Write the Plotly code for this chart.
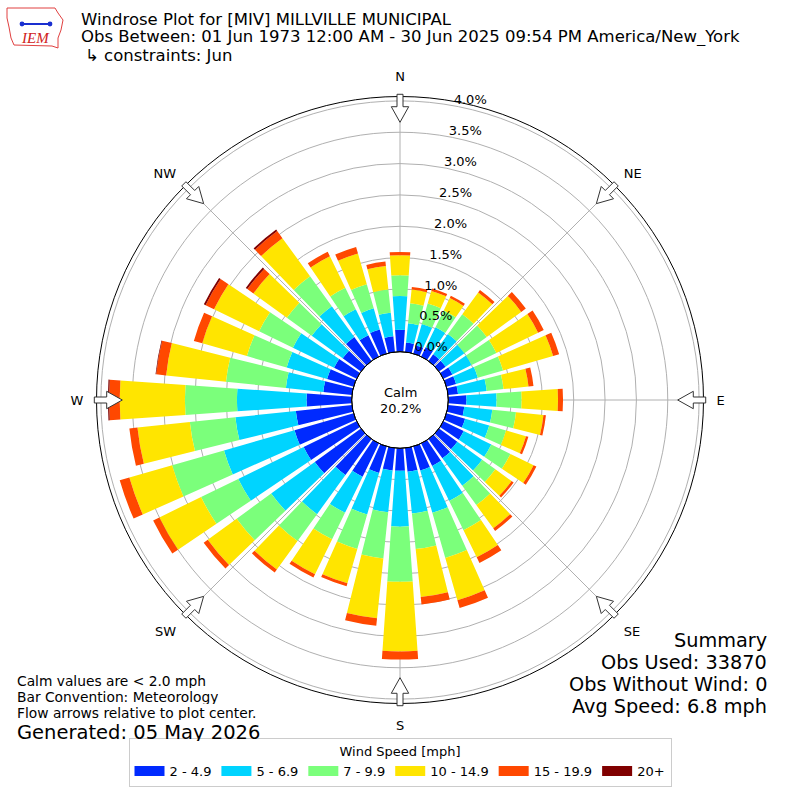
import math
import plotly.graph_objects as go

# direction bins (degrees, meteorological) and wind speed classes
directions = [0, 10, 20, 30, 40, 50, 60, 70, 80, 90, 100, 110, 120, 130, 140, 150, 160, 170,
              180, 190, 200, 210, 220, 230, 240, 250, 260, 270, 280, 290, 300, 310, 320, 330, 340, 350]
speed_bins = ["2 - 4.9", "5 - 6.9", "7 - 9.9", "10 - 14.9", "15 - 19.9", "20+"]
bin_colors = ["#002aff", "#00d4ff", "#7bff7b", "#ffe500", "#ff4800", "#800000"]

# frequency (%) per direction for each speed class
freq_2_5 = [0.35, 0.15, 0.14, 0.17, 0.13, 0.13, 0.16, 0.16, 0.16, 0.29, 0.26, 0.31, 0.36, 0.36, 0.38, 0.40, 0.40, 0.38,
            0.36, 0.36, 0.44, 0.59, 0.71, 0.91, 0.94, 0.98, 0.90, 0.72, 0.46, 0.44, 0.40, 0.36, 0.47, 0.38, 0.40, 0.25]
freq_5_7 = [0.54, 0.31, 0.35, 0.35, 0.40, 0.37, 0.34, 0.36, 0.46, 0.48, 0.45, 0.40, 0.49, 0.49, 0.54, 0.62, 0.70, 0.67,
            0.89, 0.67, 0.69, 0.64, 0.77, 0.86, 1.16, 1.17, 0.97, 1.11, 0.60, 0.67, 0.73, 0.61, 0.61, 0.46, 0.35, 0.38]
freq_7_10 = [0.33, 0.32, 0.34, 0.30, 0.39, 0.44, 0.44, 0.42, 0.27, 0.40, 0.38, 0.28, 0.34, 0.26, 0.38, 0.52, 0.75, 0.57,
             0.88, 0.74, 0.57, 0.47, 0.53, 0.68, 0.66, 0.86, 0.73, 0.83, 0.96, 0.66, 0.60, 0.49, 0.59, 0.38, 0.40, 0.37]
freq_10_15 = [0.32, 0.22, 0.21, 0.22, 0.43, 0.68, 0.74, 0.83, 0.40, 0.58, 0.44, 0.33, 0.41, 0.32, 0.46, 0.48, 0.70, 0.77,
              1.11, 0.96, 0.57, 0.62, 0.56, 0.57, 0.74, 0.71, 0.84, 1.04, 0.96, 0.74, 0.80, 0.66, 0.75, 0.56, 0.51, 0.38]
freq_15_20 = [0.05, 0.04, 0.04, 0.04, 0.05, 0.09, 0.10, 0.10, 0.08, 0.08, 0.04, 0.04, 0.05, 0.04, 0.05, 0.10, 0.13, 0.12,
              0.13, 0.12, 0.05, 0.06, 0.06, 0.08, 0.11, 0.16, 0.13, 0.17, 0.16, 0.14, 0.15, 0.12, 0.14, 0.08, 0.11, 0.07]
freq_20_up = [0, 0, 0, 0, 0, 0, 0, 0, 0, 0, 0, 0, 0, 0, 0, 0, 0, 0,
              0, 0, 0, 0, 0, 0, 0, 0, 0, 0.02, 0.01, 0, 0.03, 0.03, 0.03, 0, 0, 0]

radial_ticks = [0.0, 0.5, 1.0, 1.5, 2.0, 2.5, 3.0, 3.5, 4.0]
compass_angles = [0, 45, 90, 135, 180, 225, 270, 315]
compass_labels = ["N", "NE", "E", "SE", "S", "SW", "W", "NW"]
calm_pct = 20.2

FONT = "DejaVu Sans"
W = 800
R_OUT = 303.5   # outer circle radius in px
R_HOLE = 48.3   # calm circle radius in px

fig = go.Figure()
series = [freq_2_5, freq_5_7, freq_7_10, freq_10_15, freq_15_20, freq_20_up]
for name, vals, col in zip(speed_bins, series, bin_colors):
    fig.add_trace(go.Barpolar(
        r=vals,
        theta=directions,
        name=name,
        width=8,
        marker=dict(color=col, line=dict(width=0)),
        showlegend=False,
    ))
# legend entries drawn as wide colour patches (like the matplotlib legend)
for name, col in zip(speed_bins, bin_colors):
    fig.add_trace(go.Scatterpolar(
        r=[None], theta=[None], mode="lines", name=name,
        line=dict(color=col, width=10),
    ))


def px2paper(x, y):
    return x / W, 1 - y / W


# hollow flow arrows at the compass points
shapes = []
arrow_pts = [(305.7, -3), (293.3, -3), (293.3, -8.7), (277.7, 0), (293.3, 8.7), (293.3, 3), (305.7, 3)]
for a in compass_angles:
    t = math.radians(a)
    pts = []
    for r, off in arrow_pts:
        px = 400 + r * math.sin(t) + off * math.cos(t)
        py = 400 - r * math.cos(t) + off * math.sin(t)
        pts.append(px2paper(px, py))
    path = "M " + " L ".join(f"{x:.5f},{y:.5f}" for x, y in pts) + " Z"
    shapes.append(dict(type="path", path=path, xref="paper", yref="paper",
                       fillcolor="white", line=dict(color="#333333", width=1)))

# calm circle outline
x0, y0 = px2paper(400 - R_HOLE, 400 + R_HOLE)
x1, y1 = px2paper(400 + R_HOLE, 400 - R_HOLE)
shapes.append(dict(type="circle", xref="paper", yref="paper", x0=x0, y0=y0, x1=x1, y1=y1,
                   line=dict(color="black", width=1)))

# rough IEM logo outline
logo = [(7, 8), (55, 8), (58, 13), (63, 20), (61, 30), (58, 38), (58, 48), (52, 46), (14, 45), (11, 38), (9, 27), (7, 18)]
lp = [px2paper(x, y) for x, y in logo]
shapes.append(dict(type="path", xref="paper", yref="paper",
                   path="M " + " L ".join(f"{x:.5f},{y:.5f}" for x, y in lp) + " Z",
                   line=dict(color="#e04040", width=1)))
bx0, by0 = px2paper(22, 24)
bx1, by1 = px2paper(50, 24)
shapes.append(dict(type="line", xref="paper", yref="paper", x0=bx0, y0=by0, x1=bx1, y1=by1,
                   line=dict(color="#1a2fd0", width=2)))
for sx in (22, 50):
    cx, cy = px2paper(sx, 24)
    shapes.append(dict(type="circle", xref="paper", yref="paper", x0=cx - 0.003, y0=cy - 0.003,
                       x1=cx + 0.003, y1=cy + 0.003, fillcolor="#1a2fd0", line=dict(width=0)))

annotations = []


def add_text(x, y, text, size, xanchor="left", color="black", family=FONT, height=None):
    ax, ay = px2paper(x, y)
    ann = dict(x=ax, y=ay, xref="paper", yref="paper", text=text, showarrow=False,
               xanchor=xanchor, yanchor="middle", borderpad=0,
               font=dict(family=family, size=size, color=color))
    if height:
        ann["height"] = height
    annotations.append(ann)


add_text(80, 19, "Windrose Plot for [MIV] MILLVILLE MUNICIPAL", 16.5, height=18)
add_text(80, 37, "Obs Between: 01 Jun 1973 12:00 AM - 30 Jun 2025 09:54 PM America/New_York", 16.5, height=18)
add_text(84, 55, "↳ constraints: Jun", 16.5, height=18)
add_text(35, 38, "<i>IEM</i>", 15, xanchor="center", color="#d02020", family="Liberation Serif", height=14)

add_text(400, 392, "Calm", 13, xanchor="center", height=14)
add_text(400, 408, f"{calm_pct}%", 13, xanchor="center", height=14)

add_text(16, 680, "Calm values are < 2.0 mph", 13.8, height=15)
add_text(16, 696, "Bar Convention: Meteorology", 13.8, height=15)
add_text(16, 712, "Flow arrows relative to plot center.", 13.8, height=15)
add_text(16, 731.5, "Generated: 05 May 2026", 19.5, height=18)

add_text(768, 640, "Summary", 19.3, xanchor="right", height=21)
add_text(768, 662, "Obs Used: 33870", 19.3, xanchor="right", height=21)
add_text(768, 684, "Obs Without Wind: 0", 19.3, xanchor="right", height=21)
add_text(768, 706, "Avg Speed: 6.8 mph", 19.3, xanchor="right", height=21)

d0 = (400 - R_OUT) / W
d1 = (400 + R_OUT) / W
fig.update_layout(
    width=800, height=800,
    margin=dict(l=0, r=0, t=0, b=0),
    paper_bgcolor="white",
    font=dict(family=FONT, size=13, color="black"),
    polar=dict(
        domain=dict(x=[d0, d1], y=[d0, d1]),
        hole=R_HOLE / R_OUT,
        bgcolor="white",
        barmode="stack",
        radialaxis=dict(
            range=[0, 4.07],
            tickvals=radial_ticks,
            ticktext=[f"{v:.1f}%<br>&nbsp;" for v in radial_ticks],
            angle=81,
            tickangle=81,
            side="clockwise",
            showline=False,
            ticks="",
            gridcolor="#b0b0b0",
            gridwidth=1,
            tickfont=dict(size=13),
        ),
        angularaxis=dict(
            rotation=90,
            direction="clockwise",
            tickvals=compass_angles,
            ticktext=compass_labels,
            showline=True,
            linecolor="black",
            linewidth=1,
            gridcolor="#b0b0b0",
            gridwidth=1,
            ticks="outside",
            ticklen=10,
            tickcolor="rgba(0,0,0,0)",
            tickfont=dict(size=13),
        ),
    ),
    legend=dict(
        orientation="h",
        x=0.5, xanchor="center",
        y=0.016, yanchor="bottom",
        bordercolor="#cccccc", borderwidth=1,
        title=dict(text="Wind Speed [mph]", side="top center", font=dict(size=13)),
        font=dict(size=13),
        traceorder="normal",
        itemwidth=30,
    ),
    shapes=shapes,
    annotations=annotations,
)

fig.write_html("out.html", config={"displayModeBar": False},
               post_script="document.body.style.margin='0';")
